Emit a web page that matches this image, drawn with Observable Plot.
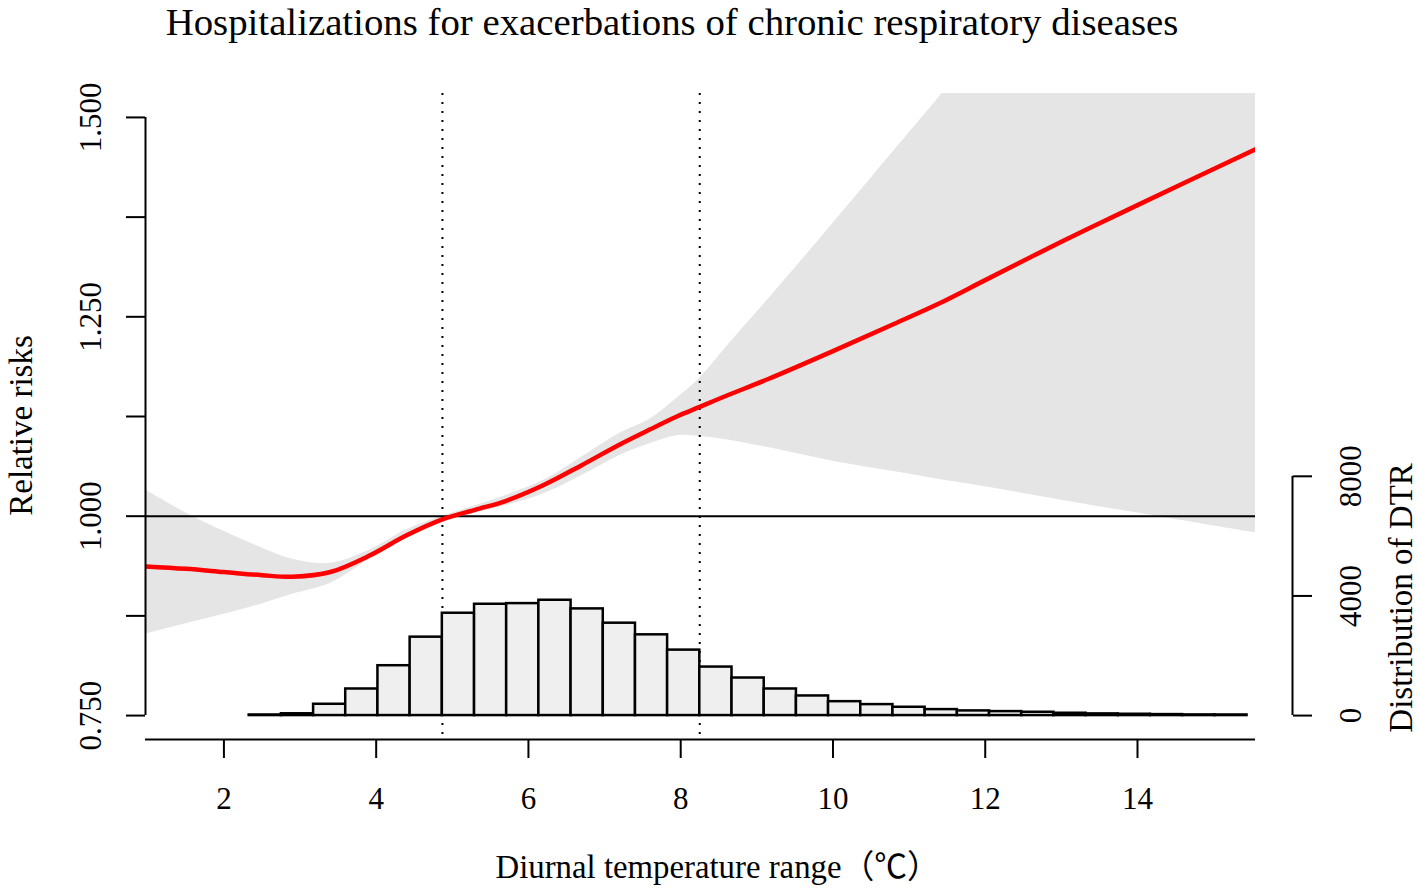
<!DOCTYPE html>
<html><head><meta charset="utf-8">
<script src="https://cdn.jsdelivr.net/npm/d3@7"></script>
<script src="https://cdn.jsdelivr.net/npm/@observablehq/plot@0.6"></script>
<style>
body{margin:0;background:#fff;}
#title{width:1344px;height:50px;line-height:43px;text-align:center;font-family:"Liberation Serif","Times New Roman",serif;font-size:38.8px;color:#000;white-space:nowrap;overflow:visible;}
</style></head><body>
<div id="title">Hospitalizations for exacerbations of chronic respiratory diseases</div>
<div id="chart"></div>
<script>
// Diurnal temperature range (x) and the exposure–response curve with its CI
const dtr    = [0.97, 1.5, 2.0, 2.5, 2.9, 3.4, 3.9, 4.4, 4.87, 5.3, 5.7, 6.2, 6.7, 7.2, 7.6, 7.95, 8.25, 8.6, 9.15, 10.0, 10.8, 11.4, 12.0, 13.0, 14.0, 15.55];
const rr     = [0.937, 0.934, 0.930, 0.926, 0.924, 0.930, 0.950, 0.976, 0.996, 1.008, 1.019, 1.039, 1.064, 1.090, 1.109, 1.125, 1.137, 1.151, 1.172, 1.207, 1.241, 1.267, 1.296, 1.344, 1.390, 1.460];
const rrLow  = [0.852, 0.865, 0.877, 0.890, 0.902, 0.916, 0.945, 0.972, 0.994, 1.004, 1.013, 1.028, 1.051, 1.076, 1.091, 1.101, 1.100, 1.096, 1.086, 1.069, 1.056, 1.046, 1.037, 1.020, 1.004, 0.979];
const rrHigh = [1.033, 1.004, 0.981, 0.960, 0.946, 0.941, 0.957, 0.983, 1.000, 1.013, 1.026, 1.045, 1.074, 1.104, 1.122, 1.148, 1.173, 1.212, 1.272, 1.367, 1.458, 1.526, 1.595, 1.740, 1.890, 2.120];

// Histogram of DTR (distribution of days)
const binEdges  = [2.332, 2.755, 3.178, 3.600, 4.023, 4.446, 4.869, 5.292, 5.714, 6.137, 6.560, 6.983, 7.406, 7.828, 8.251, 8.674, 9.097, 9.520, 9.942, 10.365, 10.788, 11.211, 11.634, 12.056, 12.479, 12.902, 13.325, 13.748, 14.170, 14.593, 15.016, 15.439];
const binCounts = [20, 60, 378, 889, 1667, 2622, 3422, 3722, 3744, 3856, 3567, 3089, 2700, 2189, 1622, 1256, 889, 656, 465, 367, 278, 200, 156, 133, 111, 78, 56, 44, 33, 22, 20];

// Reference lines and axes
const cutoffs     = [4.87, 8.25];
const xTicks      = [2, 4, 6, 8, 10, 12, 14];
const yTicks      = [0.75, 0.875, 1.0, 1.125, 1.25, 1.375, 1.5];
const yLabelTicks = [0.75, 1.0, 1.25, 1.5];
const countTicks  = [0, 4000, 8000];
const xDomain = [0.97, 15.55];
const yDomain = [0.72, 1.53];
const histBase = 0.75, histUnit = 0.30 / 8000;

const xTitle = "Diurnal temperature range（℃）";
const yTitle = "Relative risks";
const y2Title = "Distribution of DTR";

const serif = '"Liberation Serif","Times New Roman","Noto Sans CJK SC",serif';
const toY = c => histBase + c * histUnit;
const curveData = dtr.map((x, i) => ({x, rr: rr[i], lo: rrLow[i], hi: rrHigh[i]}));
const bins = binCounts.map((c, i) => ({x1: binEdges[i], x2: binEdges[i + 1], count: c}));

const chart = Plot.plot({
  width: 1418, height: 841,
  marginLeft: 145, marginRight: 163, marginTop: 43, marginBottom: 152,
  style: {fontFamily: serif, fontSize: "31px", color: "black", background: "white", overflow: "visible"},
  x: {domain: xDomain},
  y: {domain: yDomain},
  marks: [
    Plot.areaY(curveData, {x: "x", y1: "lo", y2: "hi", fill: "#e5e5e5", curve: "catmull-rom", clip: true}),
    Plot.ruleY([1], {stroke: "black", strokeWidth: 2}),
    Plot.ruleX(cutoffs, {stroke: "black", strokeWidth: 2, strokeDasharray: "2,7"}),
    Plot.rect(bins, {x1: "x1", x2: "x2", y1: () => histBase, y2: d => toY(d.count), fill: "#efefef", stroke: "black", strokeWidth: 2.5}),
    Plot.line(curveData, {x: "x", y: "rr", stroke: "#ff0000", strokeWidth: 4.5, curve: "catmull-rom", clip: true}),
    // left axis
    Plot.ruleX([xDomain[0]], {y1: yTicks[0], y2: yTicks[yTicks.length - 1], stroke: "black", strokeWidth: 2}),
    Plot.axisY({ticks: yTicks, tickSize: 19, tickFormat: () => "", strokeWidth: 2, label: null}),
    Plot.text(yLabelTicks, {y: d => d, text: d => d.toFixed(3), frameAnchor: "left", dx: -45, rotate: -90, lineAnchor: "bottom", textAnchor: "middle", fontSize: 31}),
    Plot.text([yTitle], {text: d => d, frameAnchor: "left", dx: -114, dy: 9, rotate: -90, lineAnchor: "bottom", textAnchor: "middle", fontSize: 33}),
    // bottom axis
    Plot.ruleY([yDomain[0]], {stroke: "black", strokeWidth: 2}),
    Plot.axisX({ticks: xTicks, tickSize: 19, tickPadding: 28, strokeWidth: 2, fontSize: 31, label: null}),
    Plot.text([xTitle], {text: d => d, frameAnchor: "bottom-left", dx: 350, dy: 138, textAnchor: "start", lineAnchor: "bottom", fontSize: 32.8}),
    // right axis (histogram counts)
    Plot.ruleX([xDomain[1]], {y1: toY(countTicks[0]), y2: toY(countTicks[countTicks.length - 1]), dx: 37, stroke: "black", strokeWidth: 2}),
    Plot.axisY({anchor: "right", ticks: countTicks.map(toY), tickSize: 19, dx: 37, tickFormat: () => "", strokeWidth: 2, label: null}),
    Plot.text(countTicks, {y: d => toY(d), text: d => String(d), frameAnchor: "right", dx: 105, rotate: -90, lineAnchor: "bottom", textAnchor: "middle", fontSize: 31}),
    Plot.text([y2Title], {y: () => toY(4000), text: d => d, frameAnchor: "right", dx: 156, dy: 2, rotate: -90, lineAnchor: "bottom", textAnchor: "middle", fontSize: 33})
  ]
});
document.getElementById("chart").appendChild(chart);
</script>
</body></html>
